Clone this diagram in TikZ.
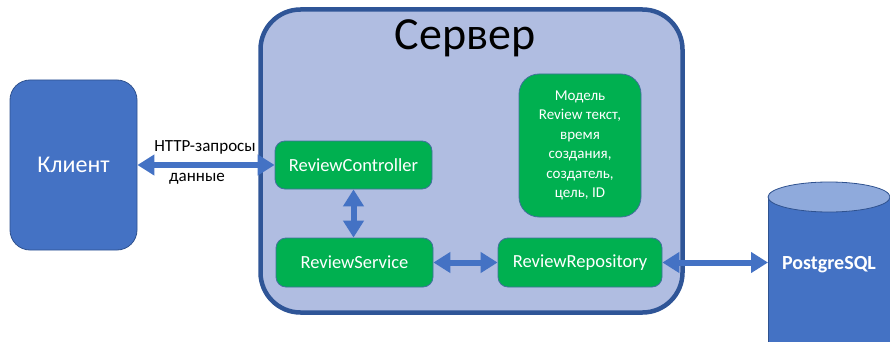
\documentclass[tikz,border=0pt]{standalone}
\usepackage{fontspec}
\setmainfont{Carlito}
\usetikzlibrary{arrows.meta}

\definecolor{clientblue}{RGB}{68,114,196}
\definecolor{edgeblue}{RGB}{47,82,143}
\definecolor{serverfill}{RGB}{176,189,225}
\definecolor{serveredge}{RGB}{47,85,151}
\definecolor{boxgreen}{RGB}{0,176,80}
\definecolor{boxedge}{RGB}{65,113,156}
\definecolor{dbtop}{RGB}{143,170,220}

\def\dbbody{(768,197) rectangle (890,370)}
\def\dbcap{(829,197) ellipse [x radius=61, y radius=15]}

\tikzset{
  greenbox/.style={fill=boxgreen, draw=boxedge, line width=0.8pt, rounded corners=10pt,
    text=white, font=\fontsize{18.5}{22}\selectfont, inner sep=0pt},
  link/.style={draw=clientblue, line width=6pt,
    {Triangle[length=17pt,width=20pt]}-{Triangle[length=17pt,width=20pt]}}
}

\begin{document}
\begin{tikzpicture}[x=1pt, y=-1pt]
      \useasboundingbox (0,0) rectangle (890,342);

      % Server
      \node (server) at (471.5,161) [fill=serverfill, draw=serveredge, line width=4.5pt,
        rounded corners=40pt, minimum width=422pt, minimum height=303pt] {};
      \node (servertitle) at (465,38) [font=\fontsize{46}{50}\selectfont] {Сервер};

      % Client
      \node (client) at (73.5,165) [fill=clientblue, draw=edgeblue, line width=0.8pt,
        rounded corners=20pt, minimum width=127pt, minimum height=170pt,
        text=white, font=\fontsize{24}{28}\selectfont] {Клиент};

      % Database
      \begin{scope}
        \fill[clientblue] \dbbody;
        \draw[edgeblue, line width=0.8pt] (768,197) -- (768,370) (890,197) -- (890,370);
        \filldraw[fill=dbtop, draw=edgeblue, line width=0.8pt] \dbcap;
      \end{scope}
      \node (db) at (829,265) [text=white, font=\fontsize{20}{24}\selectfont\bfseries] {PostgreSQL};
      \coordinate (dbin) at (768,262.5);

      % Components
      \node (controller) at (353.5,165) [greenbox, minimum width=157pt, minimum height=48pt] {ReviewController};
      \node (service) at (354.5,262.5) [greenbox, minimum width=157pt, minimum height=49pt] {ReviewService};
      \node (repo) at (580,262.5) [greenbox, minimum width=164pt, minimum height=49pt] {ReviewRepository};

      % Model
      \node (model) at (580,145.5) [greenbox, rounded corners=20pt, minimum width=122pt, minimum height=143pt,
        align=center, font=\fontsize{15}{19.5}\selectfont] {Модель\\Review текст,\\время\\создания,\\создатель,\\цель, ID};

      % Links
      \draw[link] (client.east) -- (controller.west);
      \draw[link] (controller.south) -- (controller.south |- service.north);
      \draw[link] (service.east) -- (repo.west);
      \draw[link] (repo.east) -- (dbin);

      % Link labels
      \node (request) at (205,147) [font=\fontsize{17}{20}\selectfont] {HTTP-запросы};
      \node (response) at (197,179) [font=\fontsize{17}{20}\selectfont] {данные};

    \end{tikzpicture}
\end{document}
